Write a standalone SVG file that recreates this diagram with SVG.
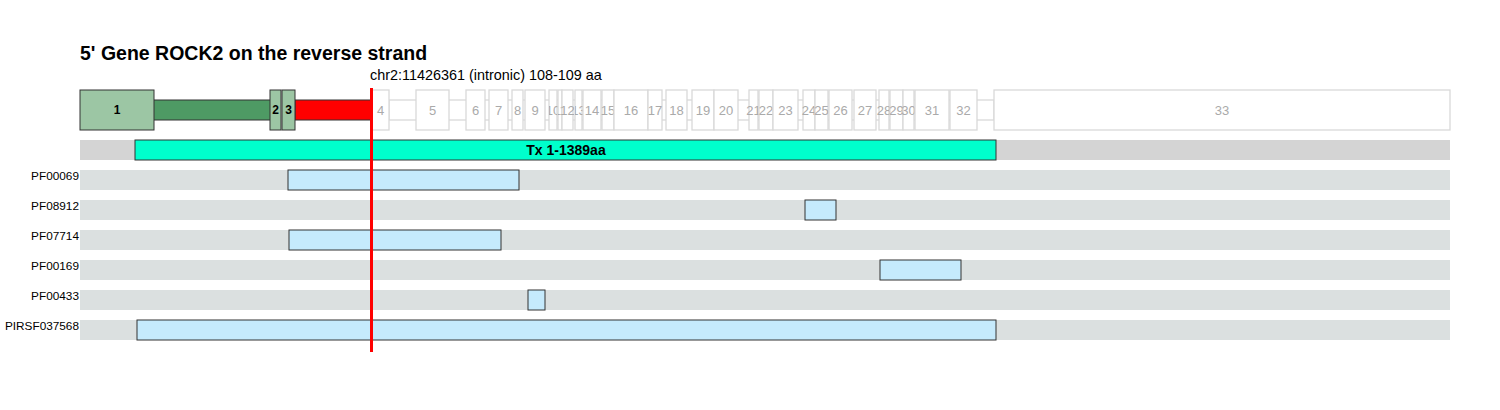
<svg xmlns="http://www.w3.org/2000/svg" width="1500" height="410" viewBox="0 0 1500 410">
<style>
text{font-family:"Liberation Sans",Arial,sans-serif}
.ex{fill:#fff;stroke:#d9d9d9;stroke-width:1.3}
.exl{fill:#aaa;font-size:13px;text-anchor:middle}
.cex{fill:#9cc6a4;stroke:#333;stroke-width:1}
.cexl{fill:#000;font-size:12px;font-weight:bold;text-anchor:middle}
.track{fill:#dbe0e0}
.dom{fill:#c5eafc;stroke:#333;stroke-width:1}
.lab{font-size:11.8px;text-anchor:end;fill:#000}
</style>
<defs>
<clipPath id="c10"><rect x="549" y="90" width="9" height="40"/></clipPath>
<clipPath id="c11"><rect x="558" y="90" width="4" height="40"/></clipPath>
<clipPath id="c13"><rect x="575" y="90" width="8" height="40"/></clipPath>
</defs>
<rect width="1500" height="410" fill="#fff"/>
<text x="80" y="60" font-size="19.5" font-weight="bold" fill="#000">5' Gene ROCK2 on the reverse strand</text>
<text x="370" y="80" font-size="14.4" fill="#000">chr2:11426361 (intronic) 108-109 aa</text>
<g id="connectors">
<rect x="153" y="100" width="118" height="20" fill="#4e9a64" stroke="#333" stroke-width="1"/>
<rect x="295" y="100" width="77" height="20" fill="#ff0000" stroke="#333" stroke-width="1"/>
<rect x="389" y="100" width="605" height="20" class="ex"/>
</g>
<g id="exon1"><rect x="80" y="90" width="74" height="40" class="cex"/><text x="117" y="110" dy="4" class="cexl">1</text></g>
<g id="exon2"><rect x="270" y="90" width="11" height="40" class="cex"/><text x="275.5" y="110" dy="4" class="cexl">2</text></g>
<g id="exon3"><rect x="282" y="90" width="13" height="40" class="cex"/><text x="288.5" y="110" dy="4" class="cexl">3</text></g>
<g id="exon4"><rect x="372" y="90" width="17" height="40" class="ex"/><text x="380.5" y="110" dy="4.5" class="exl">4</text></g>
<g id="exon5"><rect x="416" y="90" width="33" height="40" class="ex"/><text x="432.5" y="110" dy="4.5" class="exl">5</text></g>
<g id="exon6"><rect x="466" y="90" width="19" height="40" class="ex"/><text x="475.5" y="110" dy="4.5" class="exl">6</text></g>
<g id="exon7"><rect x="489" y="90" width="19" height="40" class="ex"/><text x="498.5" y="110" dy="4.5" class="exl">7</text></g>
<g id="exon8"><rect x="512" y="90" width="11" height="40" class="ex"/><text x="517.5" y="110" dy="4.5" class="exl">8</text></g>
<g id="exon9"><rect x="525" y="90" width="20" height="40" class="ex"/><text x="535" y="110" dy="4.5" class="exl">9</text></g>
<g id="exon10"><rect x="549" y="90" width="8" height="40" class="ex"/><text x="553" y="110" dy="4.5" class="exl" clip-path="url(#c10)">10</text></g>
<g id="exon11"><rect x="558" y="90" width="4" height="40" class="ex"/><text x="560" y="110" dy="4.5" class="exl" clip-path="url(#c11)">11</text></g>
<g id="exon12"><rect x="562" y="90" width="11" height="40" class="ex"/><text x="567.5" y="110" dy="4.5" class="exl">12</text></g>
<g id="exon13"><rect x="575" y="90" width="7" height="40" class="ex"/><text x="578.5" y="110" dy="4.5" class="exl" clip-path="url(#c13)">13</text></g>
<g id="exon14"><rect x="583" y="90" width="18" height="40" class="ex"/><text x="592" y="110" dy="4.5" class="exl">14</text></g>
<g id="exon15"><rect x="602" y="90" width="12" height="40" class="ex"/><text x="608" y="110" dy="4.5" class="exl">15</text></g>
<g id="exon16"><rect x="614" y="90" width="34" height="40" class="ex"/><text x="631" y="110" dy="4.5" class="exl">16</text></g>
<g id="exon17"><rect x="648" y="90" width="14" height="40" class="ex"/><text x="655" y="110" dy="4.5" class="exl">17</text></g>
<g id="exon18"><rect x="666" y="90" width="21" height="40" class="ex"/><text x="676.5" y="110" dy="4.5" class="exl">18</text></g>
<g id="exon19"><rect x="692" y="90" width="22" height="40" class="ex"/><text x="703" y="110" dy="4.5" class="exl">19</text></g>
<g id="exon20"><rect x="714" y="90" width="24" height="40" class="ex"/><text x="726" y="110" dy="4.5" class="exl">20</text></g>
<g id="exon21"><rect x="749" y="90" width="9" height="40" class="ex"/><text x="753.5" y="110" dy="4.5" class="exl">21</text></g>
<g id="exon22"><rect x="759" y="90" width="14" height="40" class="ex"/><text x="766" y="110" dy="4.5" class="exl">22</text></g>
<g id="exon23"><rect x="773" y="90" width="25" height="40" class="ex"/><text x="785.5" y="110" dy="4.5" class="exl">23</text></g>
<g id="exon24"><rect x="803" y="90" width="12" height="40" class="ex"/><text x="809" y="110" dy="4.5" class="exl">24</text></g>
<g id="exon25"><rect x="815" y="90" width="13" height="40" class="ex"/><text x="821.5" y="110" dy="4.5" class="exl">25</text></g>
<g id="exon26"><rect x="829" y="90" width="23" height="40" class="ex"/><text x="840.5" y="110" dy="4.5" class="exl">26</text></g>
<g id="exon27"><rect x="854" y="90" width="22" height="40" class="ex"/><text x="865" y="110" dy="4.5" class="exl">27</text></g>
<g id="exon28"><rect x="879" y="90" width="10" height="40" class="ex"/><text x="884" y="110" dy="4.5" class="exl">28</text></g>
<g id="exon29"><rect x="890" y="90" width="13" height="40" class="ex"/><text x="896.5" y="110" dy="4.5" class="exl">29</text></g>
<g id="exon30"><rect x="903" y="90" width="11" height="40" class="ex"/><text x="908.5" y="110" dy="4.5" class="exl">30</text></g>
<g id="exon31"><rect x="915" y="90" width="34" height="40" class="ex"/><text x="932" y="110" dy="4.5" class="exl">31</text></g>
<g id="exon32"><rect x="950" y="90" width="27" height="40" class="ex"/><text x="963.5" y="110" dy="4.5" class="exl">32</text></g>
<g id="exon33"><rect x="994" y="90" width="456" height="40" class="ex"/><text x="1222" y="110" dy="4.5" class="exl">33</text></g>
<g id="tx">
<rect x="80" y="140" width="1370" height="20" fill="#d4d4d4"/>
<rect x="135" y="140" width="861" height="20" fill="#00ffcc" stroke="#333" stroke-width="1"/>
<text x="566" y="150" dy="5" font-size="14" font-weight="bold" text-anchor="middle" fill="#000">Tx 1-1389aa</text>
</g>
<g id="PF00069"><text x="79" y="180" class="lab">PF00069</text><rect x="80" y="170" width="1370" height="20" class="track"/><rect x="288" y="170" width="231" height="20" class="dom"/></g>
<g id="PF08912"><text x="79" y="210" class="lab">PF08912</text><rect x="80" y="200" width="1370" height="20" class="track"/><rect x="805" y="200" width="31" height="20" class="dom"/></g>
<g id="PF07714"><text x="79" y="240" class="lab">PF07714</text><rect x="80" y="230" width="1370" height="20" class="track"/><rect x="289" y="230" width="212" height="20" class="dom"/></g>
<g id="PF00169"><text x="79" y="270" class="lab">PF00169</text><rect x="80" y="260" width="1370" height="20" class="track"/><rect x="880" y="260" width="81" height="20" class="dom"/></g>
<g id="PF00433"><text x="79" y="300" class="lab">PF00433</text><rect x="80" y="290" width="1370" height="20" class="track"/><rect x="528" y="290" width="17" height="20" class="dom"/></g>
<g id="PIRSF037568"><text x="79" y="330" class="lab">PIRSF037568</text><rect x="80" y="320" width="1370" height="20" class="track"/><rect x="137" y="320" width="859" height="20" class="dom"/></g>
<line id="marker" x1="371.5" y1="88" x2="371.5" y2="352" stroke="#ff0000" stroke-width="3"/>
</svg>
